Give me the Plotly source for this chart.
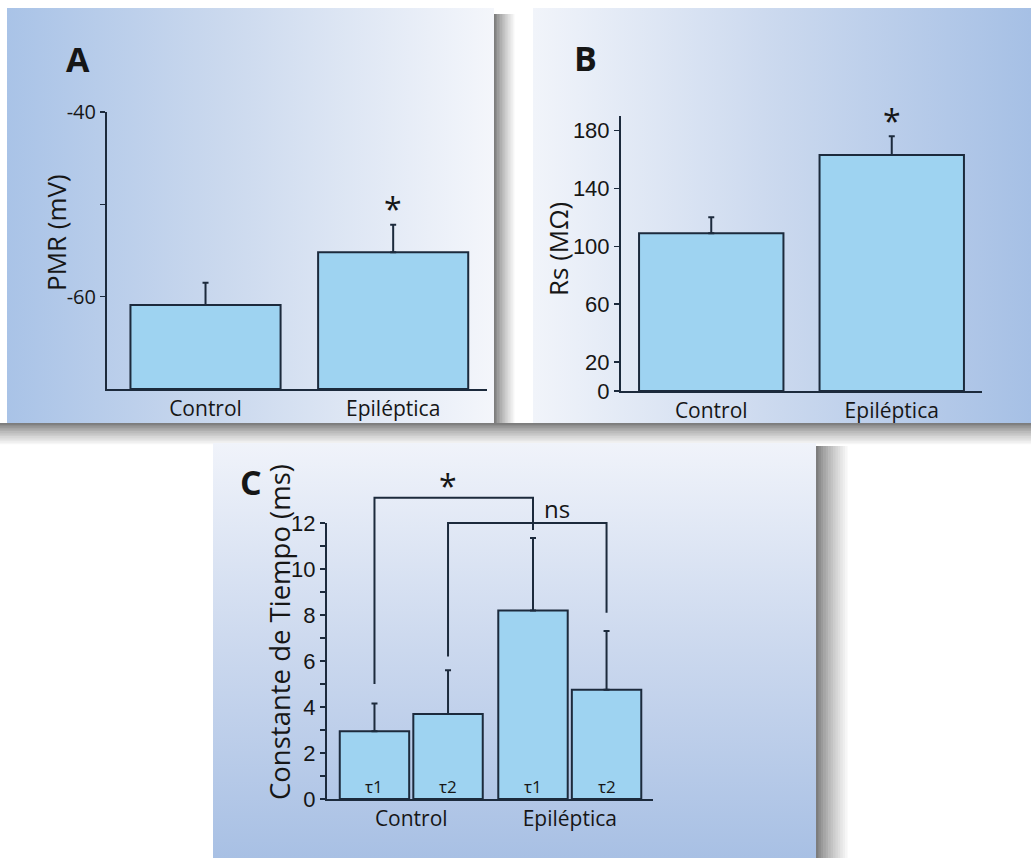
import plotly.graph_objects as go

W, H = 1031, 858

# ---------------- data ----------------
pmr_categories = ["Control", "Epiléptica"]
pmr_values = [-60.9, -55.2]
pmr_errors = [2.4, 3.0]
pmr_ticks = [-60, -50, -40]
pmr_ticklabels = ["-60", "", "-40"]
pmr_range = [-70, -40]

rs_categories = ["Control", "Epiléptica"]
rs_values = [109, 163]
rs_errors = [11, 13]
rs_ticks = [0, 20, 60, 100, 140, 180]
rs_range = [0, 190]

tau_groups = ["Control", "Epiléptica"]
tau1_values = [2.95, 8.2]
tau1_errors = [1.2, 3.15]
tau2_values = [3.7, 4.75]
tau2_errors = [1.9, 2.55]
tau_ticks = list(range(0, 13))
tau_ticklabels = [str(t) if t % 2 == 0 else "" for t in tau_ticks]
tau_range = [0, 12]

# significance brackets (level of bar, leg ends) in data units of panel C
star_bracket = {"level": 13.1, "left_end": 5.0, "right_end": 11.7}
ns_bracket = {"level": 12.0, "left_end": 6.2, "right_end": 8.1}

# ---------------- styling / geometry ----------------
BAR_FILL = "#9ed3f1"
EDGE = "#1c2a3c"
TXT = "#161616"

# panel plot areas in pixels: (left, right, top, bottom)
PA = dict(l=107, r=487, t=112, b=389, xr=[-0.525, 1.5])
PB = dict(l=621, r=982, t=116, b=391, xr=[-0.5, 1.5])
PC = dict(l=327, r=653, t=523, b=799, xr=[-0.5315, 1.525])

def dom(p):
    return [p["l"] / W, p["r"] / W], [1 - p["b"] / H, 1 - p["t"] / H]

def cx(p, v):
    return p["l"] + (v - p["xr"][0]) / (p["xr"][1] - p["xr"][0]) * (p["r"] - p["l"])

def cy(p, yr, v):
    return p["b"] - (v - yr[0]) / (yr[1] - yr[0]) * (p["b"] - p["t"])

fig = go.Figure()
shapes = []

# ---------- shadows (stripes, below everything) ----------
def shade(t):
    g = int(125 + (255 - 125) * (t ** 0.8))
    return "rgb(%d,%d,%d)" % (g, g, g)

def shadow_h(x0, x1, y0, y1, n=14):
    step = (x1 - x0) / n
    for i in range(n):
        shapes.append(dict(type="rect", xref="x", yref="y", layer="below",
                           x0=x0 + i * step, x1=x0 + (i + 1) * step + 0.6, y0=y0, y1=y1,
                           line=dict(width=0), fillcolor=shade(i / (n - 1))))

def shadow_v(x0, x1, y0, y1, n=14):
    step = (y1 - y0) / n
    for i in range(n):
        shapes.append(dict(type="rect", xref="x", yref="y", layer="below",
                           x0=x0, x1=x1, y0=y0 + i * step, y1=y0 + (i + 1) * step + 0.6,
                           line=dict(width=0), fillcolor=shade(i / (n - 1))))

shadow_h(494, 516, 14, 423)
shadow_v(0, W, 423, 446)
shadow_h(816, 850, 446, H)

# ---------- background cards (pixel axes x/y) ----------
def rect_trace(x0, x1, y0, y1, gtype, cols, start, stop):
    fg = dict(type=gtype, colorscale=cols, start=start, stop=stop)
    return go.Scatter(x=[x0, x1, x1, x0, x0], y=[y0, y0, y1, y1, y0], mode="lines",
                      line=dict(width=0), fill="toself", fillgradient=fg,
                      hoverinfo="skip", showlegend=False, xaxis="x", yaxis="y")

fig.add_trace(rect_trace(7, 494, 8, 423, "horizontal",
                         [[0, "#a9c3e7"], [0.45, "#cbd9ee"], [1, "#f4f6fb"]], 7, 494))
fig.add_trace(rect_trace(533, W, 8, 423, "horizontal",
                         [[0, "#f1f4fa"], [0.5, "#cad8ee"], [1, "#a6c0e5"]], 533, W))
fig.add_trace(rect_trace(213, 816, 443, H, "vertical",
                         [[0, "#f0f3fa"], [0.5, "#cbd8ee"], [1, "#a8c0e4"]], 443, H))

# ---------- panel A ----------
fig.add_trace(go.Bar(
    x=pmr_categories, y=[v - pmr_range[0] for v in pmr_values], base=pmr_range[0],
    width=0.8, marker=dict(color=BAR_FILL, line=dict(color=EDGE, width=2)),
    error_y=dict(type="data", array=pmr_errors, arrayminus=[0, 0], symmetric=False,
                 color=EDGE, thickness=2, width=3),
    xaxis="x2", yaxis="y2", showlegend=False, hoverinfo="skip"))

# ---------- panel B ----------
fig.add_trace(go.Bar(
    x=rs_categories, y=rs_values, width=0.8,
    marker=dict(color=BAR_FILL, line=dict(color=EDGE, width=2)),
    error_y=dict(type="data", array=rs_errors, arrayminus=[0, 0], symmetric=False,
                 color=EDGE, thickness=2, width=3),
    xaxis="x3", yaxis="y3", showlegend=False, hoverinfo="skip"))

# ---------- panel C ----------
OFF = 0.232
BW = 0.438
for vals, errs, sgn in [(tau1_values, tau1_errors, -1), (tau2_values, tau2_errors, 1)]:
    fig.add_trace(go.Bar(
        x=tau_groups, y=vals, width=BW, offset=sgn * OFF - BW / 2,
        marker=dict(color=BAR_FILL, line=dict(color=EDGE, width=2)),
        error_y=dict(type="data", array=errs, arrayminus=[0, 0], symmetric=False,
                     color=EDGE, thickness=2, width=3),
        xaxis="x4", yaxis="y4", showlegend=False, hoverinfo="skip"))

# ---------- axes ----------
ax_line = dict(showline=True, linecolor=EDGE, linewidth=2, showgrid=False, zeroline=False,
               fixedrange=True, automargin=False)
CAT_FONT = dict(family="Open Sans", size=21, color=TXT)
layout = dict(
    width=W, height=H, autosize=False,
    margin=dict(l=0, r=0, t=0, b=0, pad=0, autoexpand=False),
    paper_bgcolor="white", plot_bgcolor="rgba(0,0,0,0)", barmode="overlay",
    showlegend=False,
    xaxis=dict(range=[0, W], domain=[0, 1], visible=False, fixedrange=True, automargin=False),
    yaxis=dict(range=[H, 0], domain=[0, 1], visible=False, fixedrange=True, automargin=False),
)
xd, yd = dom(PA)
layout["xaxis2"] = dict(domain=xd, range=PA["xr"], anchor="y2", type="category", ticks="",
                        tickfont=CAT_FONT, **ax_line)
layout["yaxis2"] = dict(domain=yd, range=pmr_range, anchor="x2", tickvals=pmr_ticks,
                        ticktext=pmr_ticklabels, ticks="outside", ticklen=5, tickwidth=1.5,
                        tickcolor=EDGE, tickfont=dict(family="Open Sans", size=20, color=TXT),
                        **ax_line)
xd, yd = dom(PB)
layout["xaxis3"] = dict(domain=xd, range=PB["xr"], anchor="y3", type="category", ticks="",
                        tickfont=CAT_FONT, **ax_line)
layout["yaxis3"] = dict(domain=yd, range=rs_range, anchor="x3", tickvals=rs_ticks,
                        ticks="outside", ticklen=5, tickwidth=1.5, tickcolor=EDGE,
                        tickfont=dict(family="Liberation Sans", size=22, color=TXT), **ax_line)
xd, yd = dom(PC)
layout["xaxis4"] = dict(domain=xd, range=PC["xr"], anchor="y4", type="category", ticks="",
                        tickfont=CAT_FONT, **ax_line)
layout["yaxis4"] = dict(domain=yd, range=tau_range, anchor="x4", tickvals=tau_ticks,
                        ticktext=tau_ticklabels, ticks="outside", ticklen=5, tickwidth=1.5,
                        tickcolor=EDGE, tickfont=dict(family="Liberation Sans", size=22, color=TXT),
                        **ax_line)
fig.update_layout(**layout)

# ---------- annotations ----------
ann = []
def txt(x, y, s, size, family="Open Sans", bold=False, angle=0):
    ann.append(dict(x=x / W, y=1 - y / H, xref="paper", yref="paper", text=("<b>%s</b>" % s) if bold else s,
                    showarrow=False, textangle=angle, xanchor="center", yanchor="middle",
                    font=dict(family=family, size=size, color=TXT)))

txt(78, 59, "A", 34, bold=True)
txt(585, 58, "B", 34, bold=True)
txt(251, 482, "C", 34, bold=True)
txt(56, 233, "PMR (mV)", 26, angle=-90)
txt(558, 249, "Rs (MΩ)", 26, angle=-90)
txt(279, 632, "Constante de Tiempo (ms)", 27.5, angle=-90)

# asterisks above error bars
for p, yr, vals, errs, idx in [(PA, pmr_range, pmr_values, pmr_errors, 1),
                               (PB, rs_range, rs_values, rs_errors, 1)]:
    top = cy(p, yr, vals[idx] + errs[idx])
    txt(cx(p, idx), top - 16, "*", 32)

# tau labels inside bars
for gi in range(len(tau_groups)):
    for sgn, lab in [(-1, "τ1"), (1, "τ2")]:
        txt(cx(PC, gi + sgn * OFF), cy(PC, tau_range, 0) - 13, lab, 17)

# brackets
def bracket(b, xl, xr):
    X0, X1 = cx(PC, xl), cx(PC, xr)
    YL = cy(PC, tau_range, b["level"])
    shapes.append(dict(type="path", xref="x", yref="y", layer="above",
                       path="M %f %f L %f %f L %f %f L %f %f" % (
                           X0, cy(PC, tau_range, b["left_end"]), X0, YL, X1, YL,
                           X1, cy(PC, tau_range, b["right_end"])),
                       line=dict(color=EDGE, width=2)))
    return (X0 + X1) / 2, YL

bx, by = bracket(star_bracket, -OFF, 1 - OFF)
txt(bx - 6, by - 12, "*", 32)
nx, ny = bracket(ns_bracket, OFF, 1 + OFF)
txt(nx + 30, ny - 14, "ns", 24)

fig.update_layout(annotations=ann, shapes=shapes)
fig.write_html(
    "out.html",
    config={"displayModeBar": False, "staticPlot": True},
    post_script=("document.documentElement.style.overflow='hidden';"
                 "document.body.style.margin='0px';document.body.style.overflow='hidden';"
                 "var d=document.querySelector('.plotly-graph-div');"
                 "if(d){d.style.position='fixed';d.style.left='0px';d.style.top='0px';}"),
)
